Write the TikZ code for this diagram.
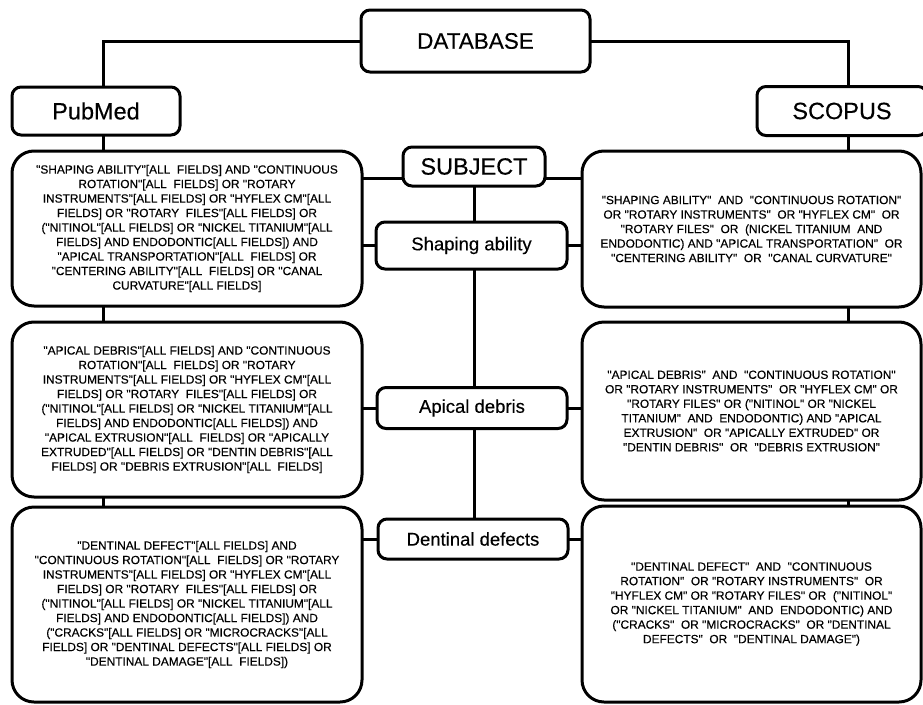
\documentclass[tikz,border=0pt]{standalone}
\usepackage{fontspec}
\newfontfamily\qfont{Liberation Sans}[FakeBold=0.35]
\begin{document}
\begin{tikzpicture}[x=1pt,y=-1pt,
  box/.style={draw=black,line width=3pt,rounded corners=9pt,inner sep=0pt,align=center},
  bigbox/.style={draw=black,line width=3pt,rounded corners=22pt,inner sep=0pt,align=center,
    font=\qfont\fontsize{11.9}{14.5}\selectfont},
  link/.style={line width=3pt,line cap=rect}]
\useasboundingbox (0,0) rectangle (923,704);
% top level
\node[box,minimum width=229pt,minimum height=62pt,font=\qfont\fontsize{22.5}{24}\selectfont] (db) at (475.5,41) {DATABASE};
\node[box,minimum width=168pt,minimum height=48pt,font=\qfont\fontsize{23.5}{26}\selectfont] (pub) at (96,111) {PubMed};
\node[box,minimum width=170pt,minimum height=49pt,font=\qfont\fontsize{23.5}{26}\selectfont] (sco) at (842,111) {SCOPUS};
% centre column
\node[box,minimum width=142pt,minimum height=39pt,font=\qfont\fontsize{23.5}{26}\selectfont] (subj) at (474,166.5) {SUBJECT};
\node[box,minimum width=191pt,minimum height=47pt,font=\qfont\fontsize{18.5}{20}\selectfont] (shp) at (471.5,245.5) {Shaping ability};
\node[box,minimum width=190pt,minimum height=41pt,font=\qfont\fontsize{18.5}{20}\selectfont] (apd) at (472,408) {Apical debris};
\node[box,minimum width=190pt,minimum height=40pt,font=\qfont\fontsize{18.5}{20}\selectfont] (den) at (473,539) {Dentinal defects};
% PubMed queries
\node[bigbox,minimum width=350pt,minimum height=155pt] (L1) at (187,228.5) {%
"SHAPING ABILITY"[ALL\ \ FIELDS] AND "CONTINUOUS\\
ROTATION"[ALL\ \ FIELDS] OR "ROTARY\\
INSTRUMENTS"[ALL FIELDS] OR "HYFLEX CM"[ALL\\
FIELDS] OR "ROTARY\ \ FILES"[ALL FIELDS] OR\\
("NITINOL"[ALL FIELDS] OR "NICKEL TITANIUM"[ALL\\
FIELDS] AND ENDODONTIC[ALL FIELDS]) AND\\
"APICAL TRANSPORTATION"[ALL\ \ FIELDS] OR\\
"CENTERING ABILITY"[ALL\ \ FIELDS] OR "CANAL\\
CURVATURE"[ALL FIELDS]};
\node[bigbox,minimum width=350pt,minimum height=175pt] (L2) at (187,409.5) {%
"APICAL DEBRIS"[ALL FIELDS] AND "CONTINUOUS\\
ROTATION"[ALL\ \ FIELDS] OR "ROTARY\\
INSTRUMENTS"[ALL FIELDS] OR "HYFLEX CM"[ALL\\
FIELDS] OR "ROTARY\ \ FILES"[ALL FIELDS] OR\\
("NITINOL"[ALL FIELDS] OR "NICKEL TITANIUM"[ALL\\
FIELDS] AND ENDODONTIC[ALL FIELDS]) AND\\
"APICAL EXTRUSION"[ALL\ \ FIELDS] OR "APICALLY\\
EXTRUDED"[ALL FIELDS] OR "DENTIN DEBRIS"[ALL\\
FIELDS] OR "DEBRIS EXTRUSION"[ALL\ \ FIELDS]};
\node[bigbox,minimum width=350pt,minimum height=195pt] (L3) at (187,604.5) {%
"DENTINAL DEFECT"[ALL FIELDS] AND\\
"CONTINUOUS ROTATION"[ALL\ \ FIELDS] OR "ROTARY\\
INSTRUMENTS"[ALL FIELDS] OR "HYFLEX CM"[ALL\\
FIELDS] OR "ROTARY\ \ FILES"[ALL FIELDS] OR\\
("NITINOL"[ALL FIELDS] OR "NICKEL TITANIUM"[ALL\\
FIELDS] AND ENDODONTIC[ALL FIELDS]) AND\\
("CRACKS"[ALL FIELDS] OR "MICROCRACKS"[ALL\\
FIELDS] OR "DENTINAL DEFECTS"[ALL FIELDS] OR\\
"DENTINAL DAMAGE"[ALL\ \ FIELDS])};
% SCOPUS queries
\node[bigbox,minimum width=339pt,minimum height=156pt] (R1) at (751.5,229) {%
"SHAPING ABILITY"\ \ AND\ \ "CONTINUOUS ROTATION"\\
OR "ROTARY INSTRUMENTS"\ \ OR "HYFLEX CM"\ \ OR\\
"ROTARY FILES"\ \ OR\ \ (NICKEL TITANIUM\ \ AND\\
ENDODONTIC) AND "APICAL TRANSPORTATION"\ \ OR\\
"CENTERING ABILITY"\ \ OR\ \ "CANAL CURVATURE"};
\node[bigbox,minimum width=339pt,minimum height=178pt] (R2) at (751.5,411) {%
"APICAL DEBRIS"\ \ AND\ \ "CONTINUOUS ROTATION"\\
OR "ROTARY INSTRUMENTS"\ \ OR "HYFLEX CM" OR\\
"ROTARY FILES" OR ("NITINOL" OR "NICKEL\\
TITANIUM"\ \ AND\ \ ENDODONTIC) AND "APICAL\\
EXTRUSION"\ \ OR "APICALLY EXTRUDED" OR\\
"DENTIN DEBRIS"\ \ OR\ \ "DEBRIS EXTRUSION"};
\node[bigbox,minimum width=339pt,minimum height=196pt] (R3) at (751.5,604) {%
"DENTINAL DEFECT"\ \ AND\ \ "CONTINUOUS\\
ROTATION"\ \ OR "ROTARY INSTRUMENTS"\ \ OR\\
"HYFLEX CM" OR "ROTARY FILES" OR\ \ ("NITINOL"\\
OR "NICKEL TITANIUM"\ \ AND\ \ ENDODONTIC) AND\\
("CRACKS"\ \ OR "MICROCRACKS"\ \ OR "DENTINAL\\
DEFECTS"\ \ OR\ \ "DENTINAL DAMAGE")};
% trunk coordinates
\coordinate (xl) at (103,0);
\coordinate (xr) at (848,0);
% connectors
\draw[link] (db.west) -| (pub.north -| xl);
\draw[link] (db.east) -| (sco.north -| xr);
\draw[link] (pub.south -| xl) -- (L1.north -| xl);
\draw[link] (L1.south -| xl) -- (L2.north -| xl);
\draw[link] (L2.south -| xl) -- (L3.north -| xl);
\draw[link] (sco.south -| xr) -- (R1.north -| xr);
\draw[link] (R1.south -| xr) -- (R2.north -| xr);
\draw[link] (R2.south -| xr) -- (R3.north -| xr);
\draw[link] (subj.south) -- (shp.north -| subj.south);
\draw[link] (shp.south -| subj.south) -- (apd.north -| subj.south);
\draw[link] (apd.south -| subj.south) -- (den.north -| subj.south);
\draw[link] ([yshift=-12pt]subj.west) -- ([yshift=-12pt]subj.west -| L1.east);
\draw[link] ([yshift=-12pt]subj.east) -- ([yshift=-12pt]subj.east -| R1.west);
\draw[link] (shp.west) -- (shp.west -| L1.east);
\draw[link] (shp.east) -- (shp.east -| R1.west);
\draw[link] (apd.west) -- (apd.west -| L2.east);
\draw[link] (apd.east) -- (apd.east -| R2.west);
\draw[link] (den.west) -- (den.west -| L3.east);
\draw[link] (den.east) -- (den.east -| R3.west);
\end{tikzpicture}
\end{document}
